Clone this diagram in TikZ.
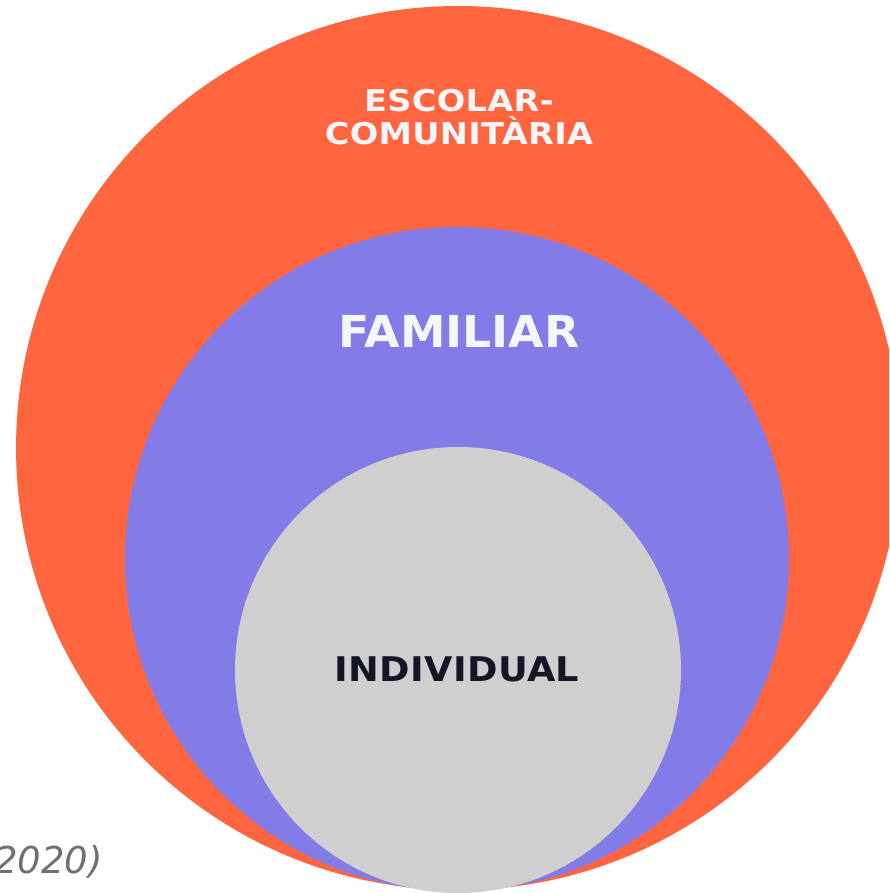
\documentclass[tikz,border=0pt]{standalone}
\usepackage{fontspec}
\setmainfont{DejaVu Sans}
\newfontfamily\escfont[FakeStretch=1.12,LetterSpace=1]{DejaVu Sans Bold}
\newfontfamily\famfont[FakeStretch=1.04]{DejaVu Sans Bold}
\newfontfamily\indfont[FakeStretch=1.08,LetterSpace=1]{DejaVu Sans Bold}
\definecolor{outerc}{HTML}{FF6640}
\definecolor{midc}{HTML}{837BE6}
\definecolor{innerc}{HTML}{D0CECF}
\definecolor{lighttext}{HTML}{F5F6FA}
\definecolor{darktext}{HTML}{141626}
\definecolor{cite}{HTML}{707070}
\begin{document}
\begin{tikzpicture}[x=1pt,y=-1pt,
  ring/.style={circle, inner sep=0pt, draw=none},
  lbl/.style={align=center, inner sep=0pt}]
\useasboundingbox (0,0) rectangle (889,893);
\clip (0,0) rectangle (889,893);
\fill[white] (0,0) rectangle (889,893);
\node[ring, fill=outerc, minimum size=884pt] (outer) at (458,448) {};
\node[ring, fill=midc, minimum size=664pt] (mid) at (457,559) {};
\node[ring, fill=innerc, minimum size=446pt] (inner) at (458,670) {};
\node[lbl, text=lighttext, font=\escfont\fontsize{30}{33}\selectfont] (escolar) at (459,117) {ESCOLAR-\\COMUNITÀRIA};
\node[lbl, text=lighttext, font=\famfont\fontsize{44}{48}\selectfont] (familiar) at (459,331) {FAMILIAR};
\node[lbl, text=darktext, font=\indfont\fontsize{34}{38}\selectfont] (individual) at (457,669) {INDIVIDUAL};
\node[anchor=base east, inner sep=0pt, text=cite, font=\itshape\fontsize{37}{40}\selectfont] (year) at (103,873) {2020)};
\end{tikzpicture}
\end{document}
